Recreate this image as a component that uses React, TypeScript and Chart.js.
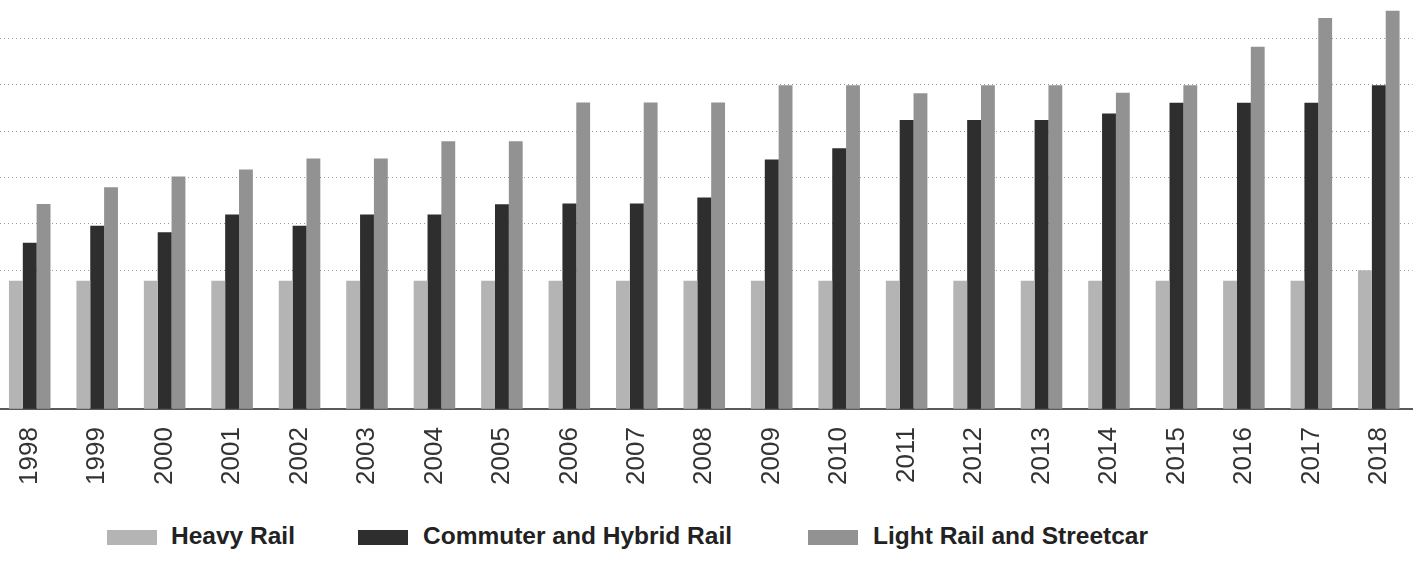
import React, { useEffect, useRef } from "react";
import { Chart, registerables } from "chart.js";

Chart.register(...registerables);

const years = [
  "1998", "1999", "2000", "2001", "2002", "2003", "2004", "2005", "2006", "2007", "2008",
  "2009", "2010", "2011", "2012", "2013", "2014", "2015", "2016", "2017", "2018",
];
const heavyRail = [
  2.77, 2.77, 2.77, 2.77, 2.77, 2.77, 2.77, 2.77, 2.77, 2.77, 2.77,
  2.77, 2.77, 2.77, 2.77, 2.77, 2.77, 2.77, 2.77, 2.77, 3.0,
];
const commuterRail = [
  3.59, 3.96, 3.82, 4.2, 3.96, 4.2, 4.2, 4.42, 4.44, 4.44, 4.57,
  5.39, 5.63, 6.24, 6.24, 6.24, 6.38, 6.61, 6.61, 6.61, 6.99,
];
const lightRail = [
  4.43, 4.79, 5.02, 5.17, 5.41, 5.41, 5.78, 5.78, 6.62, 6.62, 6.62,
  6.99, 6.99, 6.82, 6.99, 6.99, 6.83, 6.99, 7.82, 8.44, 8.6,
];
const seriesNames = ["Heavy Rail", "Commuter and Hybrid Rail", "Light Rail and Streetcar"];
const seriesColors = ["#b4b4b4", "#2e2e2e", "#929292"];
const gridValues = [3, 4, 5, 6, 7, 8];

const legendSwatchX = [107, 358, 808];
const legendTextX = [171, 423, 873];

export default function App() {
  const canvasRef = useRef<HTMLCanvasElement | null>(null);

  useEffect(() => {
    const canvas = canvasRef.current;
    if (!canvas) return;
    const seriesData = [heavyRail, commuterRail, lightRail];
    const chart = new Chart(canvas, {
      type: "bar",
      data: {
        labels: years,
        datasets: seriesNames.map((name, i) => ({
          label: name,
          data: seriesData[i],
          backgroundColor: seriesColors[i],
          borderWidth: 0,
          barPercentage: 1,
          categoryPercentage: 0.616,
        })),
      },
      options: {
        responsive: false,
        animation: false,
        devicePixelRatio: 1,
        layout: { padding: 0 },
        plugins: {
          legend: { display: false },
          tooltip: { enabled: false },
          title: { display: false },
        },
        scales: {
          x: {
            grid: { display: false, drawTicks: false },
            border: { display: true, color: "#5a5a5a", width: 2 },
            ticks: {
              autoSkip: false,
              minRotation: 90,
              maxRotation: 90,
              padding: 18,
              color: "#333",
              font: { family: "'Liberation Sans', Arial, sans-serif", size: 26 },
            },
          },
          y: {
            min: 0,
            max: 8.83,
            ticks: { display: false, stepSize: 1 },
            border: { display: false, dash: [1, 3] },
            grid: {
              drawTicks: false,
              lineWidth: 1,
              color: (ctx: any) => {
                const v = ctx.tick ? ctx.tick.value : NaN;
                return gridValues.includes(v) ? "#9a9a9a" : "rgba(0,0,0,0)";
              },
            },
          },
        },
      },
    });
    return () => chart.destroy();
  }, []);

  return (
    <div
      style={{
        position: "fixed",
        left: 0,
        top: 0,
        width: 1421,
        height: 561,
        overflow: "hidden",
        background: "#fff",
      }}
    >
      <canvas
        ref={canvasRef}
        width={1432}
        height={503}
        style={{ position: "absolute", left: -4, top: 0, width: 1432, height: 503 }}
      />
      {seriesNames.map((name, i) => (
        <React.Fragment key={name}>
          <div
            style={{
              position: "absolute",
              left: legendSwatchX[i],
              top: 530,
              width: 50,
              height: 15,
              background: seriesColors[i],
            }}
          />
          <div
            style={{
              position: "absolute",
              left: legendTextX[i],
              top: 523,
              fontFamily: "'Liberation Sans', Arial, sans-serif",
              fontWeight: "bold",
              fontSize: 24.5,
              lineHeight: "25px",
              color: "#222",
              whiteSpace: "nowrap",
            }}
          >
            {name}
          </div>
        </React.Fragment>
      ))}
    </div>
  );
}
